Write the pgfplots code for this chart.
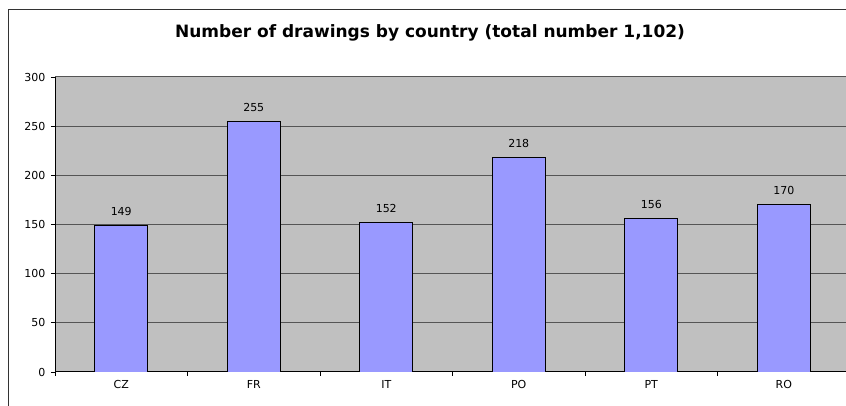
\documentclass[border=0pt]{standalone}
\usepackage{fontspec}
\setmainfont{DejaVu Sans}
\usepackage{pgfplots}
\pgfplotsset{compat=1.18}
\definecolor{plotbg}{HTML}{C0C0C0}
\definecolor{barfill}{HTML}{9999FF}
\definecolor{gridc}{HTML}{555555}
\begin{document}
\begin{tikzpicture}[x=1pt,y=1pt]
\useasboundingbox (0,0) rectangle (846,406);
\clip (0,0) rectangle (846,406);
\begin{axis}[
  at={(55pt,34pt)}, anchor=south west,
  scale only axis, width=795pt, height=295pt,
  xmin=-0.5, xmax=5.5, ymin=0, ymax=300,
  ybar, bar width=53pt,
  axis background/.style={fill=plotbg},
  axis x line*=bottom, axis y line*=left,
  axis line style={black, line width=1pt},
  ymajorgrids, grid style={gridc, line width=1pt},
  ytick={0,50,...,300},
  xtick={-0.5,0.5,...,5.5},
  xticklabels={CZ,FR,IT,PO,PT,RO},
  x tick label as interval,
  tick align=outside, major tick length=4pt,
  tick style={black, line width=0.8pt},
  /pgf/number format/assume math mode=true,
  tick label style={font=\fontsize{11}{13}\selectfont},
  yticklabel style={xshift=-2pt},
  xticklabel style={yshift=-1pt},
  nodes near coords,
  every node near coord/.append style={font=\fontsize{11}{13}\selectfont, inner sep=0pt, yshift=9.5pt, black},
]
\addplot[fill=barfill, draw=black, line width=0.8pt] coordinates {(0,149) (1,255) (2,152) (3,218) (4,156) (5,170)};
\end{axis}
\draw[line width=1pt, black!80] (8,-20) rectangle (870,396);
\node[font=\bfseries\fontsize{17}{20}\selectfont] at (430,373) {Number of drawings by country (total number 1,102)};
\end{tikzpicture}
\end{document}
